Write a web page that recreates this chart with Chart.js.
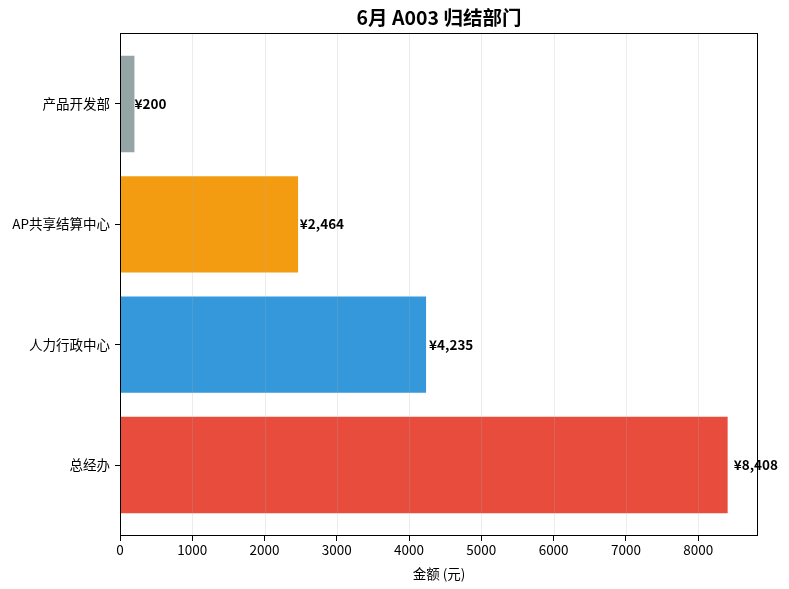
<!DOCTYPE html>
<html><head><meta charset="utf-8">
<script src="https://cdn.jsdelivr.net/npm/chart.js@4.4.0/dist/chart.umd.min.js"></script>
<style>html,body{margin:0;padding:0;background:#fff}#wrap{width:789px;height:589px}</style>
</head><body><div id="wrap"><canvas id="c" width="789" height="589"></canvas></div>
<script>
const categories = ['总经办', '人力行政中心', 'AP共享结算中心', '产品开发部'];
const values = [8408, 4235, 2464, 200];
const colors = ['#e74c3c', '#3498db', '#f39c12', '#95a5a6'];
const xTicks = [0, 1000, 2000, 3000, 4000, 5000, 6000, 7000, 8000];
const titleText = '6月 A003 归结部门';
const xLabel = '金额 (元)';
const FONT = '"Noto Sans CJK SC", "Noto Sans", sans-serif';

const overlay = {
  id: 'overlay',
  afterDatasetsDraw(chart) {
    const ctx = chart.ctx, a = chart.chartArea, xs = chart.scales.x, ys = chart.scales.y;
    ctx.save();
    ctx.strokeStyle = 'rgba(176,176,176,0.3)';
    ctx.lineWidth = 0.8;
    xTicks.forEach(t => {
      const px = Math.round(xs.getPixelForValue(t)) + 0.5;
      ctx.beginPath(); ctx.moveTo(px, a.top); ctx.lineTo(px, a.bottom); ctx.stroke();
    });
    ctx.fillStyle = '#000';
    ctx.font = 'bold 13.5px ' + FONT;
    ctx.textAlign = 'left'; ctx.textBaseline = 'middle';
    values.forEach((v, i) => {
      const px = xs.getPixelForValue(v * 1.01);
      const py = ys.getPixelForValue(i);
      ctx.fillText('¥' + v.toLocaleString('en-US'), px, py);
    });
    ctx.strokeStyle = '#000'; ctx.lineWidth = 1;
    ctx.strokeRect(a.left + 0.5, a.top + 0.5, a.right - a.left - 1, a.bottom - a.top - 1);
    ctx.font = 'bold 19.5px ' + FONT;
    ctx.textAlign = 'center'; ctx.textBaseline = 'middle';
    ctx.fillText(titleText, (a.left + a.right) / 2, 18);
    ctx.restore();
  }
};

new Chart(document.getElementById('c'), {
  type: 'bar',
  data: {
    datasets: [{
      data: values.map((v, i) => ({ x: v, y: i })),
      backgroundColor: colors,
      borderWidth: 0,
      categoryPercentage: 1,
      barPercentage: 0.8
    }]
  },
  options: {
    indexAxis: 'y',
    responsive: false,
    animation: false,
    devicePixelRatio: 1,
    layout: { padding: { top: 33, right: 31, left: 0, bottom: 0 } },
    plugins: { legend: { display: false }, tooltip: { enabled: false }, title: { display: false } },
    scales: {
      x: {
        type: 'linear', min: 0, max: 8828, offset: false,
        afterBuildTicks(s) { s.ticks = xTicks.map(v => ({ value: v })); },
        afterFit(s) { s.height = 53; },
        grid: { drawOnChartArea: false, offset: false, tickLength: 5, tickColor: '#000' },
        border: { display: false },
        ticks: { color: '#000', font: { family: FONT, size: 13.5 }, padding: 1, maxRotation: 0,
          callback: (v) => String(v) },
        title: { display: true, text: xLabel, color: '#000', font: { family: FONT, size: 13.5 }, padding: { top: 2, bottom: 7 } }
      },
      y: {
        type: 'linear', min: -0.59, max: 3.59, offset: false,
        afterBuildTicks(s) { s.ticks = categories.map((c, i) => ({ value: i })); },
        afterFit(s) { s.width = 120; },
        grid: { drawOnChartArea: false, offset: false, tickLength: 5, tickColor: '#000' },
        border: { display: false },
        ticks: { color: '#000', font: { family: FONT, size: 13.5 }, padding: 5,
          callback: (v) => categories[v] }
      }
    }
  },
  plugins: [overlay]
});
</script></body></html>
